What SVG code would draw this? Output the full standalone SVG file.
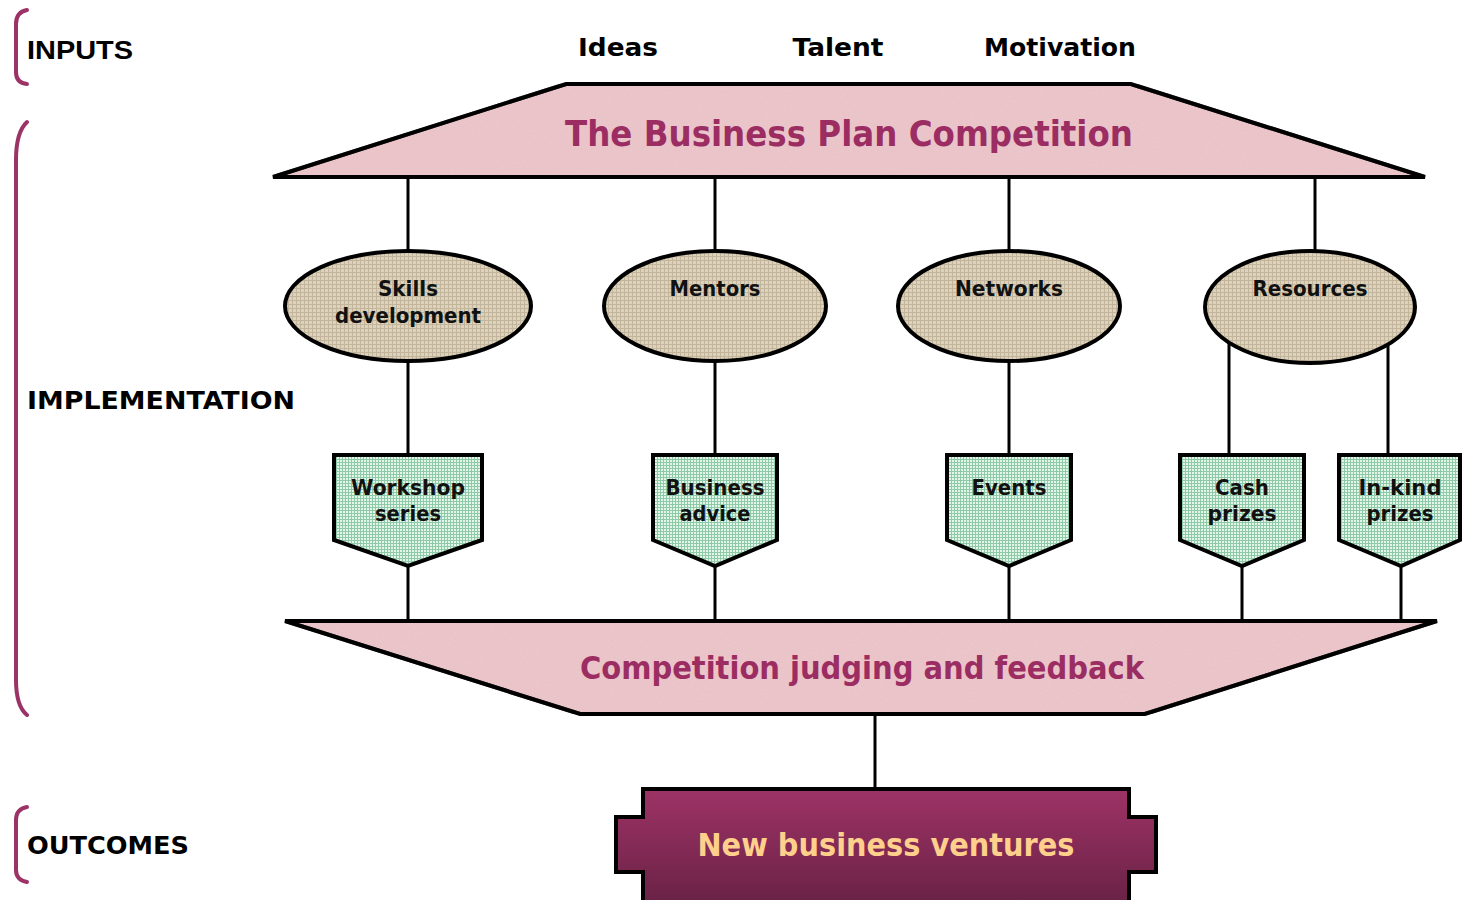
<svg xmlns="http://www.w3.org/2000/svg" width="1462" height="900" viewBox="0 0 1462 900">
<defs>
<pattern id="beige" width="4" height="4" patternUnits="userSpaceOnUse">
<rect width="4" height="4" fill="#ddd2bb"/>
<path d="M0 0.5H4M0.5 0V4" stroke="#c2b59c" stroke-width="1"/>
</pattern>
<pattern id="green" width="3" height="3" patternUnits="userSpaceOnUse">
<rect width="3" height="3" fill="#e4f5ea"/>
<path d="M0 0.5H3M0.5 0V3" stroke="#8fcaa8" stroke-width="1"/>
</pattern>
<linearGradient id="plum" x1="0" y1="0" x2="0" y2="1">
<stop offset="0" stop-color="#9e3366"/>
<stop offset="1" stop-color="#6a2246"/>
</linearGradient>
<filter id="grain" x="0" y="0" width="100%" height="100%">
<feTurbulence type="fractalNoise" baseFrequency="0.6" numOctaves="2" seed="3" result="n"/>
<feColorMatrix in="n" type="matrix" values="0 0 0 0 0.85  0 0 0 0 0.7  0 0 0 0 0.73  0 0 0 0.35 0" result="c"/>
<feComposite in="c" in2="SourceGraphic" operator="atop"/>
</filter>
</defs>
<style>
.bracket{fill:none;stroke:#9b3366;stroke-width:4;stroke-linecap:round}
.side{font-family:"DejaVu Sans",Verdana,sans-serif;font-weight:bold;font-size:25px;fill:#000}
.inp{font-family:"DejaVu Sans",Verdana,sans-serif;font-weight:bold;font-size:25px;fill:#000;text-anchor:middle}
.title{font-family:"DejaVu Sans",Verdana,sans-serif;font-weight:bold;fill:#9b2d62;text-anchor:middle}
.lbl{font-family:"DejaVu Sans",Verdana,sans-serif;font-weight:bold;font-size:21px;fill:#111;text-anchor:middle}
.trap{fill:#e9bfc4;stroke:#000;stroke-width:4;stroke-linejoin:miter}
.ell{fill:url(#beige);stroke:#000;stroke-width:4}
.pent{fill:url(#green);stroke:#000;stroke-width:4;stroke-linejoin:miter}
.conn line{stroke:#000;stroke-width:3}
</style>
<rect width="1462" height="900" fill="#fff"/>

<g id="brackets">
<path class="bracket" d="M27 10 Q16 12 16 24 V72 Q16 83 27 84"/>
<path class="bracket" d="M27 122 Q16 132 16 160 V680 Q16 706 27 715"/>
<path class="bracket" d="M27 807 Q16 809 16 820 V870 Q16 880 27 882"/>
</g>
<g id="side-labels">
<text class="side" x="27" y="59" textLength="106" lengthAdjust="spacingAndGlyphs" style="font-family:'Liberation Sans',Arial,sans-serif">INPUTS</text>
<text class="side" x="27" y="409" textLength="268" lengthAdjust="spacingAndGlyphs">IMPLEMENTATION</text>
<text class="side" x="27" y="854" textLength="162" lengthAdjust="spacingAndGlyphs">OUTCOMES</text>
</g>
<g id="inputs">
<text class="inp" x="618" y="56" textLength="80" lengthAdjust="spacingAndGlyphs">Ideas</text>
<text class="inp" x="838" y="56" textLength="91" lengthAdjust="spacingAndGlyphs">Talent</text>
<text class="inp" x="1060" y="56" textLength="152" lengthAdjust="spacingAndGlyphs">Motivation</text>
</g>

<g class="conn" id="connectors">
<line x1="408" y1="177" x2="408" y2="253"/>
<line x1="715" y1="177" x2="715" y2="253"/>
<line x1="1009" y1="177" x2="1009" y2="253"/>
<line x1="1315" y1="177" x2="1315" y2="253"/>
<line x1="408" y1="360" x2="408" y2="456"/>
<line x1="715" y1="360" x2="715" y2="456"/>
<line x1="1009" y1="360" x2="1009" y2="456"/>
<line x1="1229" y1="342" x2="1229" y2="456"/>
<line x1="1388" y1="342" x2="1388" y2="456"/>
<line x1="408" y1="565" x2="408" y2="621"/>
<line x1="715" y1="565" x2="715" y2="621"/>
<line x1="1009" y1="565" x2="1009" y2="621"/>
<line x1="1242" y1="565" x2="1242" y2="621"/>
<line x1="1401" y1="565" x2="1401" y2="621"/>
<line x1="875" y1="714" x2="875" y2="789"/>
</g>

<g id="competition">
<polygon class="trap" points="566,84 1131,84 1425,177 273,177" filter="url(#grain)"/>
<polygon points="566,84 1131,84 1425,177 273,177" fill="none" stroke="#000" stroke-width="4"/>
<text class="title" x="849" y="146" font-size="36" textLength="568" lengthAdjust="spacingAndGlyphs">The Business Plan Competition</text>
</g>

<g id="skills">
<ellipse class="ell" cx="408" cy="306" rx="123" ry="55"/>
<text class="lbl" x="408" y="296" textLength="60" lengthAdjust="spacingAndGlyphs">Skills</text>
<text class="lbl" x="408" y="323" textLength="146" lengthAdjust="spacingAndGlyphs">development</text>
</g>
<g id="mentors">
<ellipse class="ell" cx="715" cy="306" rx="111" ry="55"/>
<text class="lbl" x="715" y="296" textLength="91" lengthAdjust="spacingAndGlyphs">Mentors</text>
</g>
<g id="networks">
<ellipse class="ell" cx="1009" cy="306" rx="111" ry="55"/>
<text class="lbl" x="1009" y="296" textLength="108" lengthAdjust="spacingAndGlyphs">Networks</text>
</g>
<g id="resources">
<ellipse class="ell" cx="1310" cy="307" rx="105" ry="56"/>
<text class="lbl" x="1310" y="296" textLength="115" lengthAdjust="spacingAndGlyphs">Resources</text>
</g>

<g id="workshop">
<polygon class="pent" points="334,455 482,455 482,540 408,566 334,540"/>
<text class="lbl" x="408" y="495" textLength="114" lengthAdjust="spacingAndGlyphs">Workshop</text>
<text class="lbl" x="408" y="521" textLength="66" lengthAdjust="spacingAndGlyphs">series</text>
</g>
<g id="business-advice">
<polygon class="pent" points="653,455 777,455 777,540 715,566 653,540"/>
<text class="lbl" x="715" y="495" textLength="99" lengthAdjust="spacingAndGlyphs">Business</text>
<text class="lbl" x="715" y="521" textLength="71" lengthAdjust="spacingAndGlyphs">advice</text>
</g>
<g id="events">
<polygon class="pent" points="947,455 1071,455 1071,540 1009,566 947,540"/>
<text class="lbl" x="1009" y="495" textLength="75" lengthAdjust="spacingAndGlyphs">Events</text>
</g>
<g id="cash">
<polygon class="pent" points="1180,455 1304,455 1304,540 1242,566 1180,540"/>
<text class="lbl" x="1242" y="495" textLength="54" lengthAdjust="spacingAndGlyphs">Cash</text>
<text class="lbl" x="1242" y="521" textLength="69" lengthAdjust="spacingAndGlyphs">prizes</text>
</g>
<g id="inkind">
<polygon class="pent" points="1339,455 1460,455 1460,540 1401,566 1339,540"/>
<text class="lbl" x="1400" y="495" textLength="83" lengthAdjust="spacingAndGlyphs">In-kind</text>
<text class="lbl" x="1400" y="521" textLength="67" lengthAdjust="spacingAndGlyphs">prizes</text>
</g>

<g id="judging">
<polygon class="trap" points="285,621 1437,621 1145,714 580,714" filter="url(#grain)"/>
<polygon points="285,621 1437,621 1145,714 580,714" fill="none" stroke="#000" stroke-width="4"/>
<text class="title" x="862" y="679" font-size="32" textLength="564" lengthAdjust="spacingAndGlyphs">Competition judging and feedback</text>
</g>

<g id="ventures">
<path d="M643 789 H1129 V817 H1156 V872 H1129 V902 H643 V872 H616 V817 H643 Z" fill="url(#plum)" stroke="#000" stroke-width="4"/>
<text x="886" y="856" font-family="DejaVu Sans,Verdana,sans-serif" font-weight="bold" font-size="32" fill="#ffcf8c" text-anchor="middle" textLength="377" lengthAdjust="spacingAndGlyphs">New business ventures</text>
</g>
</svg>
